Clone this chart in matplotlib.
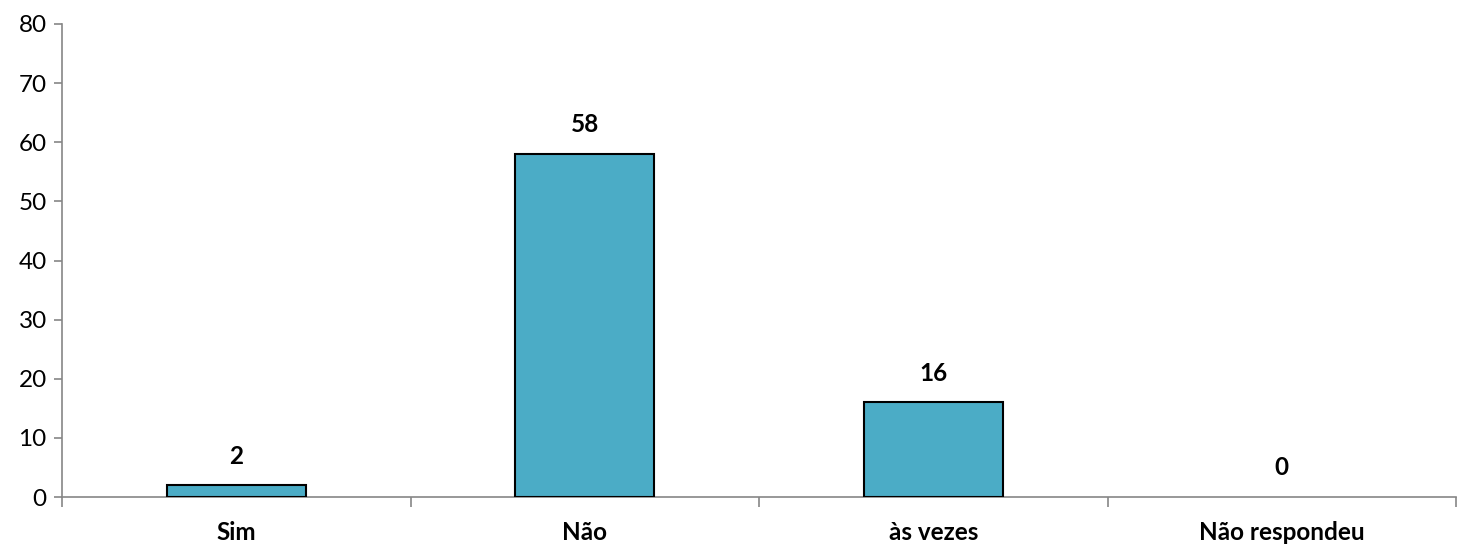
import matplotlib.pyplot as plt

categories = ['Sim', 'Não', 'às vezes', 'Não respondeu']
values = [2, 58, 16, 0]

plt.rcParams['font.family'] = ['Lato', 'DejaVu Sans']

fig = plt.figure(figsize=(14.57, 5.44), dpi=100)
ax = fig.add_axes([62 / 1457, 1 - 497 / 544, (1456 - 62) / 1457, (497 - 24) / 544])

x = list(range(len(categories)))
# no outline on empty bars so only the axis shows there
widths = [1.5 if v > 0 else 0 for v in values]
ax.bar(x, values, width=0.4, color='#4bacc6', edgecolor='black', linewidth=widths, zorder=3)

for xi, v in zip(x, values):
    ax.annotate(str(v), (xi, v), xytext=(0, 21), textcoords='offset points',
                ha='center', va='center', fontsize=17.5, fontweight='bold')

ax.set_xlim(-0.5, len(categories) - 0.5)
ax.set_ylim(0, 80)
ax.set_yticks(range(0, 81, 10))
ax.tick_params(axis='y', labelsize=17.5, length=6, width=1.2, color='#868686', pad=5)

# category separators as ticks, labels in the middle
ax.set_xticks([i - 0.5 for i in range(len(categories) + 1)])
ax.set_xticklabels([])
ax.set_xticks(x, minor=True)
ax.set_xticklabels(categories, minor=True, fontsize=17.5, fontweight='bold')
ax.tick_params(axis='x', which='major', length=7, width=1.2, color='#868686')
ax.tick_params(axis='x', which='minor', length=0, pad=17)

for side in ['top', 'right']:
    ax.spines[side].set_visible(False)
for side in ['left', 'bottom']:
    ax.spines[side].set_color('#868686')
    ax.spines[side].set_linewidth(1.2)

fig.savefig('out.png', dpi=100)
